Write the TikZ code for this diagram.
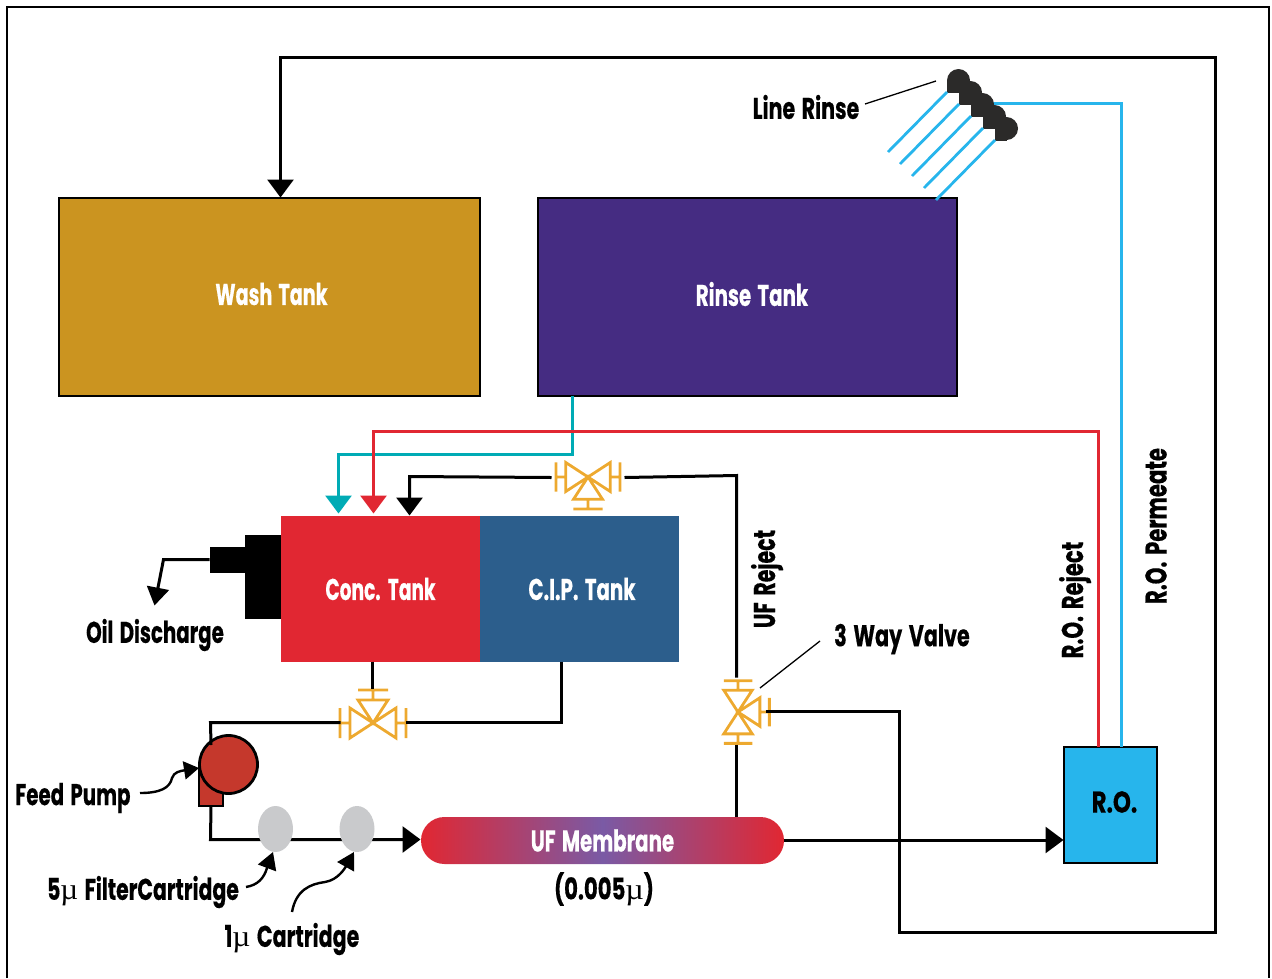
\documentclass[tikz,border=0pt]{standalone}
\usepackage{fontspec}
\usepackage{graphicx}
\usetikzlibrary{arrows.meta,shapes.geometric}
\newfontfamily\labelfont[FakeStretch=0.66,WordSpace=1.5,BoldFeatures={FakeBold=0.4}]{Poppins}
\newfontfamily\mufont{Liberation Serif}
\newcommand{\mumark}{{\mufont\mdseries µ}}
\definecolor{washcol}{HTML}{CB9420}
\definecolor{rinsecol}{HTML}{452C82}
\definecolor{conccol}{HTML}{E12732}
\definecolor{cipcol}{HTML}{2C5E8C}
\definecolor{rocol}{HTML}{27B5EC}
\definecolor{tealcol}{HTML}{00ABB5}
\definecolor{valvecol}{HTML}{EDA92F}
\definecolor{pumpcol}{HTML}{C5382C}
\definecolor{nozzlecol}{HTML}{2B2A29}
\definecolor{cartcol}{HTML}{C9CACC}
\definecolor{midcol}{HTML}{7A5AA5}
\tikzset{
    tank/.style={draw=black, line width=1.2pt, inner sep=0pt, minimum width=#1},
    pipe/.style={line width=3pt, line cap=butt},
    tip/.style={-{Triangle[length=18pt,width=26pt]}},
    lead/.style={line width=1.3pt},
    label/.style={font=\labelfont\bfseries\fontsize{30}{34}\selectfont, inner sep=0pt},
    valve/.pic={
        \draw[line width=2.8pt, valvecol, line join=miter]
            (0,0) -- (-23,-15) -- (-23,15) -- cycle
            (0,0) -- (23,-15) -- (23,15) -- cycle
            (0,0) -- (-15,-23) -- (15,-23) -- cycle
            (-33,-15) -- (-33,15) (33,-15) -- (33,15) (-15,-33) -- (15,-33)
            (-33,0) -- (-23,0) (33,0) -- (23,0) (0,-33) -- (0,-23);
    }
}
\begin{document}
\begin{tikzpicture}[x=1pt,y=-1pt]
    \useasboundingbox (0,0) rectangle (1272,978);
    \draw[line width=1.5pt] (7,978) -- (7,7) -- (1269,7) -- (1269,978);

    % Tanks
    \node[tank=421pt, minimum height=198pt, fill=washcol] (wash) at (269.5,297) {};
    \node[tank=419pt, minimum height=198pt, fill=rinsecol] (rinse) at (747.5,297) {};
    \node[minimum width=199pt, minimum height=146pt, inner sep=0pt, fill=conccol] (conc) at (380.5,589) {};
    \node[minimum width=199pt, minimum height=146pt, inner sep=0pt, fill=cipcol] (cip) at (579.5,589) {};
    \node[tank=93pt, minimum height=116pt, fill=rocol] (ro) at (1110.5,805) {};
    \node[minimum width=36pt, minimum height=84pt, inner sep=0pt, fill=black] (oilbig) at (263,577) {};
    \node[minimum width=35pt, minimum height=26pt, inner sep=0pt, fill=black] (oilsmall) at (227.5,560) {};
    \node[rounded corners=23.5pt, minimum width=363pt, minimum height=47pt, inner sep=0pt,
          left color=conccol, right color=conccol, middle color=midcol] (membrane) at (602.5,840.5) {};

    \node[label, white] at (wash.center) [xshift=2pt,yshift=3pt] {\scalebox{0.97}[1]{Wash Tank}};
    \node[label, white] at (rinse.center) [xshift=4.5pt,yshift=3pt] {Rinse Tank};
    \node[label, white] at (conc.center) {\scalebox{0.94}[1]{Conc. Tank}};
    \node[label, white] at (cip.center) [xshift=2.5pt] {C.I.P. Tank};
    \node[label, white] at (membrane.center) {UF Membrane};
    \node[label] at (ro.center) [xshift=4pt,yshift=3pt] {\scalebox{1.15}[1]{R.O.}};

    % Valves
    \coordinate (lowvalve) at (373,723);
    \coordinate (topvalve) at (588,477);
    \coordinate (wayvalve) at (738,712);
    \pic at (lowvalve) {valve};
    \pic[rotate=180, scale=0.97] at (topvalve) {valve};
    \pic[rotate=-90, scale=0.95] at (wayvalve) {valve};

    % Pump and cartridges
    \coordinate (pumpin) at (211,745);
    \coordinate (pumpout) at (211,806);
    \draw[line width=2.8pt, fill=pumpcol] (199,765) rectangle (223,806);
    \node[circle, draw=black, line width=2.8pt, fill=pumpcol, minimum size=58pt, inner sep=0pt] (pump) at (228.5,764.5) {};

    % Pipes
    \begin{scope}[xshift=-0.5pt,yshift=0.5pt]
    \coordinate (lowleft) at (341,723);
    \coordinate (lowright) at (406,723);
    \coordinate (lowtop) at (373,689);
    \coordinate (topleft) at (552,478);
    \coordinate (topright) at (625,478);
    \coordinate (wayup) at (737,678);
    \coordinate (waydown) at (737,745);
    \coordinate (wayright) at (766,712);
    \draw[pipe, tip] (wayright) -- (900,712) -- (900,933) -- (1216,933) -- (1216,58) -- (281,58) -- (281,198);
    \draw[pipe, tip] (topleft) -- (410,477) -- (410,516);
    \draw[pipe] (topright) -- (737,476) -- (wayup);
    \draw[pipe] (waydown) -- (737,817);
    \draw[pipe] (373,662) -- (lowtop);
    \draw[pipe] (562,662) -- (562,723) -- (lowright);
    \draw[pipe] (lowleft) -- (211,723) -- (pumpin);
    \draw[pipe, tip] (pumpout) -- (211,840) -- (421,840);
    \draw[pipe, tip] (784,840.5) -- (1064,840.5);
    \draw[pipe, tealcol, -{Triangle[length=18pt,width=26pt]}] (573,396) -- (573,455) -- (339,455) -- (339,514);
    \draw[pipe, conccol, -{Triangle[length=18pt,width=26pt]}] (1099,747) -- (1099,432) -- (374,432) -- (374,514);
    \draw[pipe, rocol] (1122,747) -- (1122,104) -- (992,104);
    \draw[pipe, -{Triangle[length=18pt,width=22pt]}] (210,560) -- (164,560) -- (155,606);
    \end{scope}

    \node[ellipse, fill=cartcol, minimum width=35pt, minimum height=46pt, inner sep=0pt] (cartA) at (275.5,829) {};
    \node[ellipse, fill=cartcol, minimum width=35pt, minimum height=46pt, inner sep=0pt] (cartB) at (357,829) {};

    % Line rinse heads
    \foreach \i in {0,...,4} {
        \fill[nozzlecol] (958.5+12*\i,80.5+12*\i) circle (11.5);
        \fill[nozzlecol] (947+12*\i,80.5+12*\i) rectangle (958.5+12*\i,92.5+12*\i);
        \draw[line width=2.8pt, rocol] (947+12*\i,92+12*\i) -- (888+12*\i,152+12*\i);
    }

    % Labels and leaders
    \node[label] (oillabel) at (155,635) {Oil Discharge};
    \node[label] (feedlabel) at (73,798) {Feed Pump};
    \node[label] (fivelabel) at (143,892) {\scalebox{1.03}[1]{5\mumark{} FilterCartridge}};
    \node[label] (onelabel) at (292,939) {\scalebox{1.04}[1]{1\mumark{} Cartridge}};
    \node[label] (sizelabel) at (604,889) {\scalebox{1.07}[1]{(0.005\mumark)}};
    \node[label] (rinselabel) at (806,107) {\scalebox{1.04}[1]{Line Rinse}};
    \node[label] (waylabel) at (902,639) {\scalebox{1.045}[1]{3 Way Valve}};
    \node[label, rotate=90] at (767,579) {\scalebox{1.04}[1]{UF Reject}};
    \node[label, rotate=90] at (1075,600) {\scalebox{1.07}[1]{R.O. Reject}};
    \node[label, rotate=90] at (1156,526) {\scalebox{1.07}[1]{R.O. Permeate}};

    \draw[lead] (865,104) -- (936,81);
    \draw[lead] (820,641) -- (760,688);
    \draw[line width=2.4pt, -{Triangle[length=15pt,width=18pt]}] (140,793) .. controls (160,793) and (170,788) .. (172,778)
        .. controls (174,772) and (180,771) .. (199,768);
    \draw[line width=2.4pt, -{Triangle[length=17pt,width=19pt]}] (246,887) .. controls (258,885) and (264,878) .. (267,868)
        -- (273,852);
    \draw[line width=2.4pt, -{Triangle[length=17pt,width=19pt]}] (292,912) .. controls (296,890) and (310,884) .. (325,882)
        .. controls (338,880) and (345,868) .. (354,852);
\end{tikzpicture}
\end{document}
